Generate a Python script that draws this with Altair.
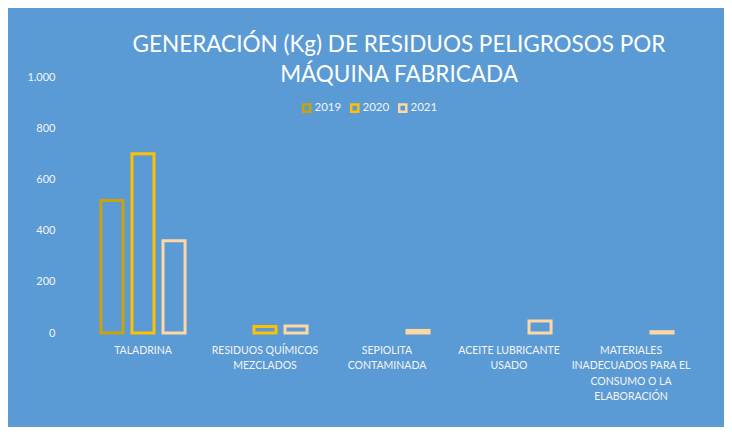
import json
import altair as alt
import pandas as pd

categories = [
    "TALADRINA",
    "RESIDUOS QUÍMICOS MEZCLADOS",
    "SEPIOLITA CONTAMINADA",
    "ACEITE LUBRICANTE USADO",
    "MATERIALES INADECUADOS PARA EL CONSUMO O LA ELABORACIÓN",
]
label_lines = [
    ["TALADRINA"],
    ["RESIDUOS QUÍMICOS", "MEZCLADOS"],
    ["SEPIOLITA", "CONTAMINADA"],
    ["ACEITE LUBRICANTE", "USADO"],
    ["MATERIALES", "INADECUADOS PARA EL", "CONSUMO O LA", "ELABORACIÓN"],
]
years = ["2019", "2020", "2021"]
values_2019 = [518, None, None, None, None]
values_2020 = [700, 25, None, None, None]
values_2021 = [360, 27, 10, 47, 5]
colors = ["#CBA10C", "#FFC000", "#FFD7A3"]

rows = []
for y, vals in zip(years, [values_2019, values_2020, values_2021]):
    for c, v in zip(categories, vals):
        if v is not None:
            rows.append({"cat": c, "year": y, "value": v})
df = pd.DataFrame(rows)

label_map = json.dumps(dict(zip(categories, label_lines)), ensure_ascii=False)

FONT = "Lato"

chart = alt.Chart(df).mark_bar(
    filled=False, strokeWidth=3, fill="transparent"
).encode(
    x=alt.X(
        "cat:N",
        sort=categories,
        scale=alt.Scale(paddingInner=0, paddingOuter=0),
        axis=alt.Axis(
            title=None,
            labelAngle=0,
            domain=False,
            ticks=False,
            tickSize=0,
            labelPadding=12,
            labelColor="#F4F4F4",
            labelFont=FONT,
            labelFontSize=10.5,
            labelLineHeight=15.5,
            labelExpr=f"{label_map}[datum.value]",
            labelBaseline="top",
        ),
    ),
    xOffset=alt.XOffset(
        "year:N",
        sort=years,
        scale=alt.Scale(paddingInner=0.29, paddingOuter=0.61),
    ),
    y=alt.Y(
        "value:Q",
        scale=alt.Scale(domain=[0, 1000]),
        axis=alt.Axis(
            title=None,
            values=[0, 200, 400, 600, 800, 1000],
            grid=False,
            domain=False,
            ticks=False,
            tickSize=0,
            labelPadding=27,
            labelColor="#F4F4F4",
            labelFont=FONT,
            labelFontSize=11,
            labelExpr="replace(format(datum.value, ','), ',', '.')",
        ),
    ),
    color=alt.Color(
        "year:N",
        sort=years,
        scale=alt.Scale(domain=years, range=colors),
        legend=alt.Legend(
            title=None,
            orient="none",
            direction="horizontal",
            legendX=219,
            legendY=25,
            symbolType="square",
            symbolSize=50,
            symbolStrokeWidth=2.5,
            symbolFillColor="transparent",
            labelColor="#F4F4F4",
            labelFont=FONT,
            labelFontSize=11.5,
            labelOffset=2,
            columnPadding=4,
        ),
    ),
).properties(
    width=610,
    height=256,
    background="#5B9BD5",
    padding={"left": 74, "top": 69, "right": 32, "bottom": 94},
    autosize=alt.AutoSizeParams(type="none"),
    title=alt.TitleParams(
        text=["GENERACIÓN (Kg) DE RESIDUOS PELIGROSOS POR", "MÁQUINA FABRICADA"],
        anchor="middle",
        frame="group",
        color="#FFFFFF",
        font=FONT,
        fontSize=22.5,
        fontWeight="normal",
        lineHeight=30,
        offset=0,
        dx=12,
        dy=15,
    ),
).configure_view(stroke=None)

chart.save("out.html", embed_options={"renderer": "svg", "actions": False})
